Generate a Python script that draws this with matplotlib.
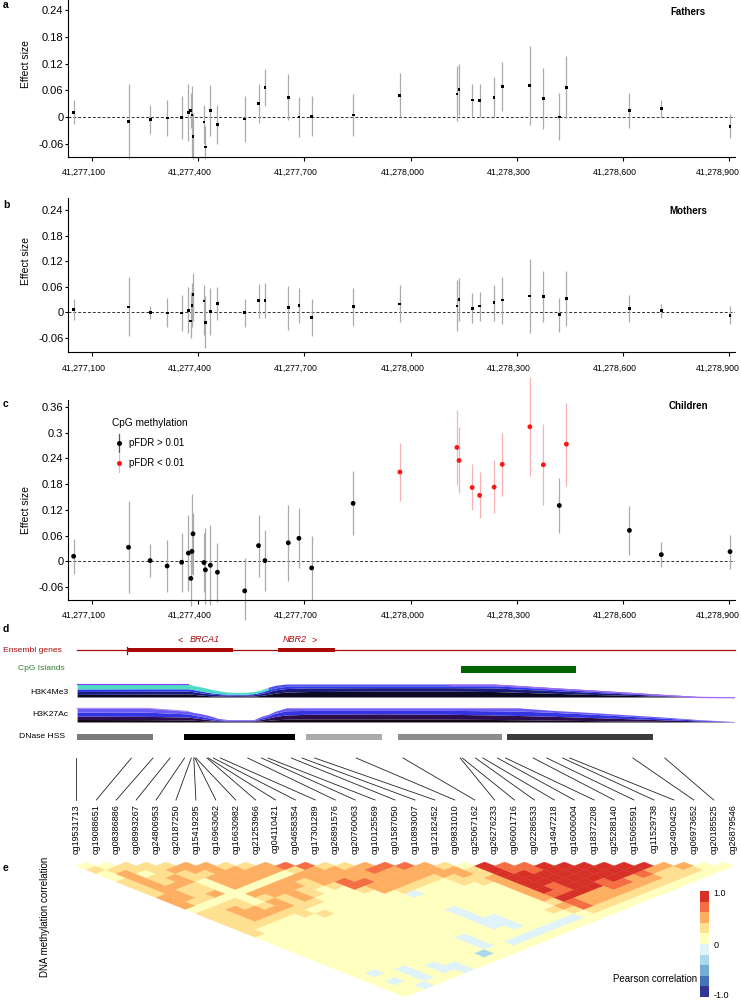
import numpy as np
import matplotlib as mpl
import matplotlib.pyplot as plt
from matplotlib.colors import ListedColormap, BoundaryNorm
from matplotlib.collections import PolyCollection
from matplotlib.patches import Rectangle
from matplotlib.lines import Line2D
from matplotlib.ticker import FuncFormatter
from matplotlib.transforms import ScaledTranslation

plt.rcParams['font.family'] = ['Liberation Sans', 'DejaVu Sans']

# CpG positions on chr17 and their probe names
cpg_pos = [41277049, 41277204, 41277265, 41277313, 41277354, 41277373, 41277380,
           41277383, 41277386, 41277417, 41277421, 41277435, 41277455, 41277532,
           41277571, 41277589, 41277655, 41277685, 41277721, 41277838, 41277970,
           41278131, 41278137, 41278174, 41278195, 41278236, 41278259, 41278337,
           41278375, 41278420, 41278440, 41278618, 41278708, 41278902]
cpg_names = ['cg19531713', 'cg19088651', 'cg08386886', 'cg08993267', 'cg24806953',
             'cg20187250', 'cg15419295', 'cg16963062', 'cg16630982', 'cg21253966',
             'cg04110421', 'cg04658354', 'cg17301289', 'cg26891576', 'cg20760063',
             'cg10125569', 'cg01587050', 'cg10893007', 'cg12182452', 'cg09831010',
             'cg25067162', 'cg26276233', 'cg06001716', 'cg02286533', 'cg14947218',
             'cg16006004', 'cg18372208', 'cg25288140', 'cg15065591', 'cg11529738',
             'cg24900425', 'cg06973652', 'cg20185525', 'cg26879546']

# panel a - fathers
fathers_est = [0.0105, -0.0097, -0.006, -0.002, -0.001, 0.0097, 0.015, 0.0045, -0.043,
               -0.011, -0.067, 0.015, -0.016, -0.0045, 0.031, 0.0665, 0.044, 0.0, 0.002,
               0.0045, 0.048, 0.0515, 0.061, 0.038, 0.037, 0.043, 0.069, 0.071, 0.041,
               0.0, 0.0665, 0.014, 0.0187, -0.0217]
fathers_lo = [-0.016, -0.095, -0.038, -0.043, -0.049, -0.054, -0.025, -0.089, -0.095,
              -0.06, -0.095, -0.043, -0.06, -0.057, -0.013, 0.025, -0.0075, -0.044,
              -0.043, -0.043, 0.0, -0.010, 0.0045, 0.0, 0.0, -0.0015, 0.0135, -0.018,
              -0.028, -0.052, -0.003, -0.024, -0.0007, -0.048]
fathers_hi = [0.038, 0.073, 0.026, 0.038, 0.047, 0.073, 0.053, 0.069, 0.01, 0.028, -0.02,
              0.072, 0.028, 0.047, 0.073, 0.108, 0.096, 0.045, 0.048, 0.051, 0.098, 0.114,
              0.118, 0.074, 0.074, 0.09, 0.124, 0.16, 0.111, 0.053, 0.1375, 0.053, 0.039,
              0.006]

# panel b - mothers
mothers_est = [0.007, 0.013, -0.001, -0.0015, -0.0015, 0.0047, -0.020, 0.017, 0.0416,
               0.0267, -0.0235, 0.0024, 0.021, -0.001, 0.0275, 0.028, 0.011, 0.0165,
               -0.011, 0.014, 0.020, 0.015, 0.0306, 0.010, 0.015, 0.0227, 0.029, 0.0384,
               0.037, -0.0055, 0.032, 0.010, 0.0047, -0.0063]
mothers_lo = [-0.018, -0.056, -0.016, -0.035, -0.044, -0.049, -0.06, -0.035, -0.02,
              -0.052, -0.083, -0.052, -0.018, -0.034, -0.012, -0.013, -0.04, -0.024,
              -0.055, -0.031, -0.023, -0.044, -0.021, -0.024, -0.021, -0.0196, -0.026,
              -0.047, -0.022, -0.0447, -0.032, -0.022, -0.013, -0.028]
mothers_hi = [0.031, 0.083, 0.016, 0.033, 0.041, 0.059, 0.048, 0.07, 0.0925, 0.065, 0.038,
              0.058, 0.06, 0.032, 0.067, 0.068, 0.063, 0.057, 0.032, 0.058, 0.0635, 0.075,
              0.081, 0.045, 0.049, 0.065, 0.084, 0.125, 0.0965, 0.0345, 0.0965, 0.04,
              0.0204, 0.0157]

# panel c - children
children_est = [0.0116, 0.0326, 0.0016, -0.011, -0.0023, 0.019, -0.040, 0.023, 0.064,
                -0.003, -0.020, -0.0093, -0.0256, -0.069, 0.0365, 0.0016, 0.043, 0.0536,
                -0.0155, 0.135, 0.208, 0.2655, 0.235, 0.172, 0.1537, 0.173, 0.226, 0.3136,
                0.225, 0.130, 0.273, 0.072, 0.0155, 0.0225]
children_lo = [-0.029, -0.0745, -0.036, -0.071, -0.071, -0.069, -0.105, -0.03, -0.032,
               -0.071, -0.1, -0.103, -0.095, -0.137, -0.036, -0.069, -0.046, -0.016, -0.09,
               0.061, 0.141, 0.1785, 0.16, 0.1195, 0.101, 0.112, 0.153, 0.199, 0.132,
               0.0668, 0.176, 0.014, -0.0124, -0.018]
children_hi = [0.053, 0.141, 0.040, 0.05, 0.066, 0.108, 0.03, 0.156, 0.112, 0.065, 0.078,
               0.085, 0.043, 0.0085, 0.108, 0.073, 0.131, 0.125, 0.059, 0.211, 0.275, 0.352,
               0.312, 0.227, 0.207, 0.236, 0.30, 0.429, 0.32, 0.194, 0.37, 0.130, 0.044,
               0.062]
children_sig = [False, False, False, False, False, False, False, False, False, False,
                False, False, False, False, False, False, False, False, False, False,
                True, True, True, True, True, True, True, True, True, False,
                True, False, False, False]

# panel d tracks
genes = [('BRCA1', 41277191, 41277491), ('NBR2', 41277618, 41277778)]
cpg_island = (41278132, 41278458)
dnase = [(41277051, 41277266, '#7a7a7a'), (41277352, 41277665, '#000000'),
         (41277696, 41277910, '#ababab'), (41277956, 41278249, '#8c8c8c'),
         (41278263, 41278675, '#3c3c3c')]
hist_x = [41277051, 41277250, 41277364, 41277380, 41277400, 41277425, 41277450,
          41277475, 41277500, 41277525, 41277550, 41277570, 41277590, 41277610,
          41277640, 41277700, 41277900, 41278100, 41278226, 41278300, 41278400,
          41278500, 41278600, 41278700, 41278800, 41278905]
h3k4_top = [1, 1, 1, .88, .78, .62, .48, .38, .35, .36, .42, .55, .75, .9, 1, 1, 1, 1, 1,
            .88, .71, .55, .38, .21, .05, .03]
h3k4_l3 = [.62, .63, .63, .56, .46, .34, .26, .22, .2, .21, .26, .38, .56, .7, .82, .86, .86,
           .86, .86, .76, .6, .46, .31, .16, .035, .02]
h3k4_l2 = [.42, .44, .45, .4, .32, .24, .18, .15, .14, .15, .18, .26, .4, .55, .65, .7, .72,
           .72, .7, .6, .48, .36, .24, .12, .03, .01]
h3k4_l1 = [.2, .22, .24, .2, .15, .1, .07, .06, .05, .06, .08, .12, .2, .3, .38, .42, .45,
           .45, .42, .36, .28, .2, .13, .06, .015, .005]
h3k27_top = [1, 1, .78, .68, .6, .45, .25, .18, .17, .17, .18, .4, .55, .78, 1, 1, 1, 1, 1, 1,
             .82, .68, .52, .36, .18, .03]
h3k27_l3 = [.7, .7, .58, .48, .4, .28, .17, .13, .12, .12, .13, .28, .43, .62, .8, .83, .83,
            .83, .8, .78, .68, .56, .42, .28, .14, .02]
h3k27_l2 = [.42, .4, .35, .3, .24, .16, .1, .08, .08, .08, .09, .18, .28, .4, .5, .55, .58,
            .55, .5, .46, .4, .32, .24, .16, .08, .01]
h3k27_l1 = [.18, .17, .15, .12, .1, .07, .05, .04, .04, .04, .05, .08, .12, .16, .2, .22,
            .22, .2, .18, .16, .13, .1, .07, .04, .02, .005]

# panel e: binned pearson correlation, row i holds pairs (i, j>i)
# code: 9 = 0.8..1, 8 = 0.6..0.8, 7 = 0.4..0.6, 6 = 0.2..0.4, 5 = 0..0.2, 4 = -0.2..0, 3 = -0.4..-0.2
corr_rows = [
    "565566667775666666555555555555555",
    "56777777765666665555555555545455",
    "6656676665677765555555555555554",
    "666776675667765555555555554445",
    "67665555556765555555555555555",
    "7767775767766555555555555445",
    "777775776665655555555555544",
    "67775777765555555555555555",
    "6775776655555555555555555",
    "775766555555555555555535",
    "86777655555555555544455",
    "8777886555555555555555",
    "677787755555555555545",
    "67777764555444445545",
    "7877765555555444545",
    "877765555555555545",
    "87765555555555545",
    "7776655555555545",
    "677665555556545",
    "56677777767655",
    "9999999898865",
    "889998897765",
    "88999997765",
    "9999997765",
    "999988765",
    "99998765",
    "9997765",
    "998765",
    "97665",
    "7665",
    "765",
    "55",
    "5",
]
code_value = {'9': 0.9, '8': 0.7, '7': 0.5, '6': 0.3, '5': 0.1, '4': -0.1,
              '3': -0.3, '2': -0.5, '1': -0.7, '0': -0.9}
corr_colors = ['#313695', '#4575b4', '#74add1', '#abd9e9', '#e0f3f8',
               '#ffffbf', '#fee090', '#fdae61', '#f46d43', '#d73027']

W, H = 741.0, 1000.0
XMIN, XMAX = 41277034, 41278916
xticks = [41277100, 41277400, 41277700, 41278000, 41278300, 41278600, 41278900]

fig = plt.figure(figsize=(7.41, 10), dpi=100)


def fx(X):
    return X / W


def fy(Y):
    return 1 - Y / H


def fbox(x0, y0, x1, y1):
    return [x0 / W, 1 - y1 / H, (x1 - x0) / W, (y1 - y0) / H]


def effect_panel(y0, y1, est, lo, hi, ylim, yticks, sig=None, big=False):
    ax = fig.add_axes(fbox(68.3, y0, 735, y1))
    ax.set_xlim(XMIN, XMAX)
    ax.set_ylim(*ylim)
    ax.spines['top'].set_visible(False)
    ax.spines['right'].set_visible(False)
    ax.spines['left'].set_linewidth(0.8)
    ax.spines['bottom'].set_linewidth(0.8)
    ax.axhline(0, color='#333333', lw=0.7, ls=(0, (3, 2)), zorder=1)
    if sig is None:
        sig = [False] * len(est)
    bar_col = ['#f7b3b3' if s else '#ababab' for s in sig]
    dot_col = ['#ff1414' if s else 'black' for s in sig]
    ax.vlines(cpg_pos, lo, hi, colors=bar_col, lw=0.9, zorder=2, clip_on=False)
    if big:
        ax.scatter(cpg_pos, est, s=12, c=dot_col, marker='o', lw=0, zorder=3)
    else:
        ax.scatter(cpg_pos, est, s=4, c=dot_col, marker='s', lw=0, zorder=3)
    ax.set_xticks(xticks)
    ax.xaxis.set_major_formatter(FuncFormatter(lambda v, p: f'{int(round(v)):,}'))
    ax.set_yticks(yticks)
    ax.yaxis.set_major_formatter(FuncFormatter(lambda v, p: f'{v:g}'))
    ax.tick_params(axis='x', length=3, width=0.8, pad=5, labelsize=6.3)
    ax.tick_params(axis='y', length=2.5, width=0.8, pad=1, labelsize=8)
    # tick labels sit a little left of their ticks in the original
    labs = ax.get_xticklabels()
    for k, lab in enumerate(labs):
        dx = -12 if k == len(labs) - 1 else -8
        lab.set_transform(lab.get_transform() +
                          ScaledTranslation(dx / 100, 0, fig.dpi_scale_trans))
    ax.set_ylabel('Effect size', fontsize=7.5)
    ax.yaxis.set_label_coords(-0.056, (0.12 - ylim[0]) / (ylim[1] - ylim[0]))
    return ax


yt = [-0.06, 0, 0.06, 0.12, 0.18, 0.24]
effect_panel(0, 156.7, fathers_est, fathers_lo, fathers_hi, (-0.089, 0.2624), yt)
effect_panel(198, 352.3, mothers_est, mothers_lo, mothers_hi, (-0.0933, 0.268), yt)
effect_panel(400, 600, children_est, children_lo, children_hi, (-0.0903, 0.376),
             [-0.06, 0, 0.06, 0.12, 0.18, 0.24, 0.3, 0.36], sig=children_sig, big=True)

for name, Y in [('Fathers', 12), ('Mothers', 211), ('Children', 406)]:
    fig.text(fx(688), fy(Y), name, ha='center', va='center', fontsize=7, weight='bold')
for letter, Y in [('a', 5), ('b', 205), ('c', 404), ('d', 629), ('e', 868)]:
    fig.text(fx(3), fy(Y), letter, ha='left', va='center', fontsize=7.5, weight='bold')

# legend of panel c
fig.text(fx(112), fy(423), 'CpG methylation', ha='left', va='center', fontsize=7.3)
for Y, lc, dc, lab in [(443, '#555555', 'black', 'pFDR > 0.01'),
                       (463, '#f7b3b3', '#ff1414', 'pFDR < 0.01')]:
    fig.add_artist(Line2D([fx(119), fx(119)], [fy(Y - 9), fy(Y + 9)], color=lc, lw=0.9,
                          transform=fig.transFigure))
    fig.add_artist(Line2D([fx(119)], [fy(Y)], marker='o', ms=3.6, color=dc, mew=0,
                          transform=fig.transFigure))
    fig.text(fx(129), fy(Y), lab, ha='left', va='center', fontsize=7)

# panel d: genome tracks, y in figure pixel rows
ax_d = fig.add_axes(fbox(76.4, 620, 733.6, 805))
ax_d.set_xlim(cpg_pos[0], cpg_pos[-1])
ax_d.set_ylim(805, 620)
ax_d.axis('off')

gene_red = '#a80a0a'
ax_d.plot([41277051, 41278907], [650, 650], color=gene_red, lw=0.9, clip_on=False)
for name, g0, g1 in genes:
    ax_d.add_patch(Rectangle((g0, 648.2), g1 - g0, 3.8, color=gene_red, lw=0))
ax_d.plot([genes[0][1], genes[0][1]], [646.5, 653.5], color=gene_red, lw=0.9)
ax_d.text(41277335, 640, '<', ha='left', va='center', fontsize=6.5, color=gene_red)
ax_d.text(41277369, 640, 'BRCA1', ha='left', va='center', fontsize=6.5, color=gene_red,
          style='italic')
ax_d.text(41277631, 640, 'NBR2', ha='left', va='center', fontsize=6.5, color=gene_red,
          style='italic')
ax_d.text(41277713, 640, '>', ha='left', va='center', fontsize=6.5, color=gene_red)

ax_d.add_patch(Rectangle((cpg_island[0], 666), cpg_island[1] - cpg_island[0], 6.5,
                         color='#006400', lw=0))


def hist_track(base, height, layers, colors):
    prev = np.zeros(len(hist_x))
    for lay, col in zip(layers, colors):
        lay = np.array(lay, dtype=float)
        ax_d.fill_between(hist_x, base - prev * height, base - lay * height,
                          color=col, lw=0)
        prev = lay


hx = np.array(hist_x)
# H3K4Me3
hist_track(697, 13, [h3k4_l1, h3k4_l2, h3k4_l3], ['#0c0a22', '#1b1b78', '#2e38e6'])
t = np.array(h3k4_top, dtype=float)
l3 = np.array(h3k4_l3, dtype=float)
left = hx <= 41277590
right = hx >= 41277590
ax_d.fill_between(hx[left], 697 - l3[left] * 13, 697 - t[left] * 13, color='#4fdcc6', lw=0)
ax_d.fill_between(hx[right], 697 - l3[right] * 13, 697 - t[right] * 13, color='#5050ee', lw=0)
m = (hx >= 41278100)
ax_d.fill_between(hx[m], 697 - (t[m] - 0.1) * 13, 697 - t[m] * 13, color='#a76cf2', lw=0)
m = hx <= 41277364
ax_d.plot(hx[m], 697 - t[m] * 13 + 0.4, color='#7a3cf5', lw=0.8)

# H3K27Ac
hist_track(722, 14, [h3k27_l1, h3k27_l2, h3k27_l3], ['#120818', '#2c0e48', '#3434e0'])
ax_d.fill_between(hist_x, 722 - np.array(h3k27_l3) * 14, 722 - np.array(h3k27_top) * 14,
                  color='#6a5cf4', lw=0)
t = np.array(h3k27_top, dtype=float)
m = hx <= 41277364
ax_d.plot(hx[m], 722 - t[m] * 14 + 0.4, color='#a88af5', lw=0.8)
m = (hx >= 41277640) & (hx <= 41278300)
ax_d.plot(hx[m], 722 - t[m] * 14 + 0.4, color='#a88af5', lw=0.8)

for d0, d1, col in dnase:
    ax_d.add_patch(Rectangle((d0, 734), d1 - d0, 6, color=col, lw=0))

# connector lines from genomic position to evenly spaced labels
n = len(cpg_pos)
lab_x = np.linspace(cpg_pos[0], cpg_pos[-1], n)
for k in range(n):
    col = '#999999' if k == n - 1 else '#222222'
    ax_d.plot([cpg_pos[k], lab_x[k]], [758, 800], color=col, lw=0.6)
    ax_d.text(lab_x[k], 804, cpg_names[k], rotation=90, ha='center', va='top',
              fontsize=6.5)

for lab, Y, X, col in [('Ensembl genes', 650, 62, gene_red),
                       ('CpG Islands', 669, 65, '#2f7f2f'),
                       ('H3K4Me3', 692, 68, 'black'),
                       ('H3K27Ac', 715, 68, 'black'),
                       ('DNase HSS', 737, 65, 'black')]:
    fig.text(fx(X), fy(Y), lab, ha='right', va='center', fontsize=6.1, color=col)

# panel e: correlation triangle
cmap = ListedColormap(corr_colors)
norm = BoundaryNorm(np.linspace(-1, 1, 11), cmap.N)
ax_e = fig.add_axes(fbox(76.4, 862, 733.6, 997))
ax_e.set_xlim(0, n - 1)
ax_e.set_ylim(n / 2, 0)
ax_e.axis('off')
polys, vals = [], []
for i, row in enumerate(corr_rows):
    row = row.ljust(n - 1 - i, '5')[:n - 1 - i]
    for jj, ch in enumerate(row):
        j = i + 1 + jj
        cx, cy = (i + j) / 2, (j - i) / 2
        polys.append([(cx - 0.5, cy), (cx, cy - 0.5), (cx + 0.5, cy), (cx, cy + 0.5)])
        vals.append(code_value[ch])
pc = PolyCollection(polys, facecolors=cmap(norm(vals)), edgecolors=cmap(norm(vals)),
                    linewidths=0.3)
ax_e.add_collection(pc)

fig.text(fx(45), fy(917), 'DNA methylation correlation', rotation=90, ha='center',
         va='center', fontsize=7)

ax_cb = fig.add_axes(fbox(700, 891, 709, 997))
cb = mpl.colorbar.ColorbarBase(ax_cb, cmap=cmap, norm=norm, ticks=[-0.95, 0, 0.97])
cb.ax.set_yticklabels(['-1.0', '0', '1.0'])
cb.ax.minorticks_off()
cb.outline.set_visible(False)
cb.ax.tick_params(which='both', length=0, pad=3, labelsize=6.5)
fig.text(fx(697), fy(979), 'Pearson correlation', ha='right', va='center', fontsize=7)

fig.savefig('out.png', dpi=100)
